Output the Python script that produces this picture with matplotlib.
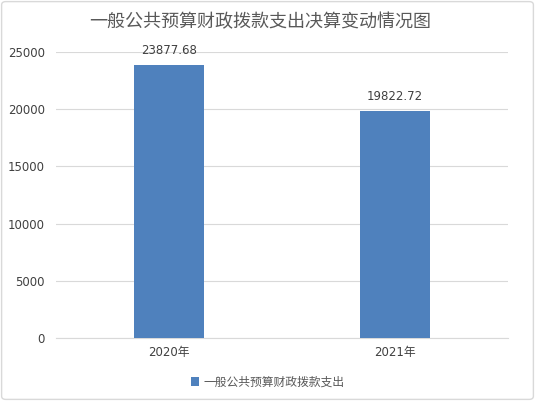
import matplotlib.pyplot as plt
from matplotlib.patches import FancyBboxPatch

plt.rcParams['font.family'] = ['DejaVu Sans', 'Noto Sans CJK SC']

years = ['2020年', '2021年']
values = [23877.68, 19822.72]
series_name = '一般公共预算财政拨款支出'
title = '一般公共预算财政拨款支出决算变动情况图'
yticks = [0, 5000, 10000, 15000, 20000, 25000]

bar_color = '#4F81BD'
text_color = '#404040'

fig = plt.figure(figsize=(5.35, 4.01), dpi=100)
ax = fig.add_axes([0.1047, 0.1571, 0.8448, 0.7132])

x = range(len(years))
bars = ax.bar(x, values, width=0.31, color=bar_color, label=series_name, zorder=3)
for i, v in enumerate(values):
    ax.text(i, v + 700, f'{v:.2f}', ha='center', va='bottom', fontsize=8.5, color=text_color)

ax.set_xlim(-0.5, len(years) - 0.5)
ax.set_ylim(0, 25000)
ax.set_yticks(yticks)
ax.set_yticklabels([str(t) for t in yticks], fontsize=8.5, color=text_color)
ax.set_xticks(list(x))
ax.set_xticklabels(years, fontsize=8.5, color=text_color)
ax.tick_params(length=0, pad=8)
ax.tick_params(axis='x', pad=6)
ax.grid(axis='y', color='#D9D9D9', linewidth=0.8, zorder=0)
for s in ['top', 'right', 'left']:
    ax.spines[s].set_visible(False)
ax.spines['bottom'].set_color('#D9D9D9')

fig.text(0.487, 0.945, title, ha='center', va='center', fontsize=13,
         color='#595959', family=['Noto Sans CJK SC'])

fig.legend(handles=[bars], labels=[series_name], loc='center', bbox_to_anchor=(0.5, 0.047),
           frameon=False, fontsize=8.5, handlelength=0.7, handleheight=0.7, handletextpad=0.4,
           labelcolor='#595959', prop={'family': ['Noto Sans CJK SC'], 'size': 8.5})

border = FancyBboxPatch((0.003, 0.004), 0.994, 0.992, boxstyle='round,pad=0,rounding_size=0.008',
                        transform=fig.transFigure, fill=False, edgecolor='#D9D9D9', linewidth=1)
fig.patches.append(border)

fig.savefig('out.png', dpi=100)
